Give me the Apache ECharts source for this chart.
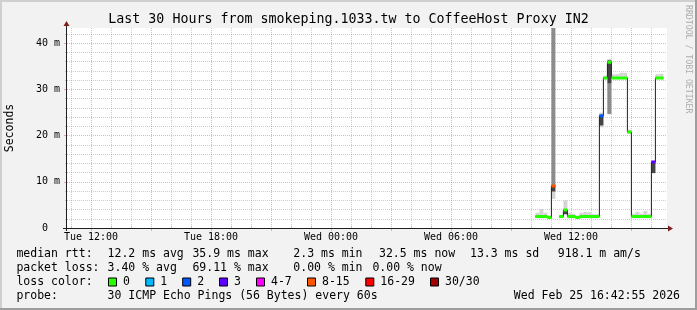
<!DOCTYPE html>
<html><head><meta charset="utf-8">
<script src="https://cdn.jsdelivr.net/npm/echarts@6/dist/echarts.min.js"></script>
<style>html,body{margin:0;padding:0;background:#f2f2f2;}#c{width:697px;height:310px;}</style>
</head><body><div id="c"></div>
<script>
// ---------------- data ----------------
const titleText = 'Last 30 Hours from smokeping.1033.tw to CoffeeHost Proxy IN2';
const yAxisTitle = 'Seconds';
const watermark = 'RRDTOOL / TOBI OETIKER';
const timeRange = [10.8, 40.8];            // hours since Tue 00:00
const xTickHours = [12, 18, 24, 30, 36];
const xTickLabels = ['Tue 12:00', 'Tue 18:00', 'Wed 00:00', 'Wed 06:00', 'Wed 12:00'];
const xMajorHours = [12, 15, 18, 21, 24, 27, 30, 33, 36, 39];
const xMinorHours = [11, 13, 14, 16, 17, 19, 20, 22, 23, 25, 26, 28, 29, 31, 32, 34, 35, 37, 38, 40];
const yRange = [0, 43.3];                  // milliseconds
const yTickValues = [0, 10, 20, 30, 40];
const yTickLabels = ['0\u00a0\u00a0', '10 m', '20 m', '30 m', '40 m'];
const yMinorValues = [2, 4, 6, 8, 12, 14, 16, 18, 22, 24, 26, 28, 32, 34, 36, 38, 42];

const bucketStart = 34.22;                 // first bucket start (hours)
const bucketHours = 0.2;                   // 12 minute buckets
const medianRtt = [2.5, 2.5, 2.5, 2.3, 9.1, null, 2.5, 3.9, 2.5, 2.5, 2.3, 2.5, 2.5, 2.5, 2.5, 2.5,
                   24.3, 32.5, 35.9, 32.5, 32.5, 32.5, 32.5, 20.8, 2.5, 2.5, 2.5, 2.5, 2.5, 14.3, 32.5, 32.5];
const lossLevel = [0, 0, 0, 0, 5, null, 0, 0, 0, 0, 0, 0, 0, 0, 0, 0,
                   2, 0, 0, 0, 0, 0, 0, 0, 0, 0, 0, 0, 0, 3, 0, 0];
const lightSmokeLo = [2.1, 2.1, 2.1, 2.0, 6.3, null, 2.1, 2.9, 2.1, 2.1, 2.0, 2.1, 2.1, 2.1, 2.1, 2.1,
                      21.8, 32.2, 24.6, 32.2, 32.2, 32.2, 32.2, 20.4, 2.1, 2.1, 2.1, 2.1, 2.1, 11.8, 32.2, 32.2];
const lightSmokeHi = [3.3, 4.1, 3.3, 2.7, 9.1, null, 2.9, 6.0, 3.3, 3.1, 2.7, 3.3, 3.5, 3.4, 3.0, 3.0,
                      25.0, 33.0, 36.6, 33.3, 33.3, 33.6, 33.6, 21.3, 3.1, 3.5, 3.1, 3.7, 3.1, 14.6, 33.3, 33.4];
const midSmokeLo = [null, null, null, null, 9.1, null, null, null, null, null, null, null, null, null, null, null,
                    null, null, 24.7, null, null, null, null, null, null, null, null, null, null, null, null, null];
const midSmokeHi = [null, null, null, null, 44.0, null, null, null, null, null, null, null, null, null, null, null,
                    null, null, 31.3, null, null, null, null, null, null, null, null, null, null, null, null, null];
const darkSmokeLo = [null, null, null, null, 7.9, null, null, 3.0, null, null, null, null, null, null, null, null,
                     22.2, null, 31.3, null, null, null, null, null, null, null, null, null, null, 11.9, null, null];
const darkSmokeHi = [null, null, null, null, 9.1, null, null, 3.9, null, null, null, null, null, null, null, null,
                     24.3, null, 36.3, null, null, null, null, null, null, null, null, null, null, 14.3, null, null];

const lossLabels = ['0', '1', '2', '3', '4-7', '8-15', '16-29', '30/30'];
const lossColors = ['#26ff00', '#00b8ff', '#0059ff', '#5e00ff', '#ff00ff', '#ff5500', '#ff0000', '#a10000'];
const rttStats = ['12.2 ms avg', '35.9 ms max', '2.3 ms min', '32.5 ms now', '13.3 ms sd', '918.1 m am/s'];
const lossStats = ['3.40 % avg', '69.11 % max', '0.00 % min', '0.00 % now'];
const rowNames = ['median rtt:', 'packet loss:', 'loss color:', 'probe:'];
const probeText = '30 ICMP Echo Pings (56 Bytes) every 60s';
const stampText = 'Wed Feb 25 16:42:55 2026';

// ---------------- layout ----------------
const W = 697, H = 310;
const GL = 67, GT = 28, GW = 600, GH = 200;
const MONO = '"DejaVu Sans Mono", monospace';
const rttStatX = [107.6, 192.4, 293.3, 379, 470, 557.8];
const lossStatX = [107.6, 192.4, 293.3, 372.4];
const lossBoxX = [108, 145.3, 182.2, 219, 256, 307, 365.3, 430];
const rowY = [254.5, 268.5, 282.5, 296.5];
const GRID_C = 'rgba(143,143,143,0.45)';
const MGRID_C = 'rgba(222,79,79,0.45)';
const ARROW_C = '#801f1f';

function smoke(lo, hi, color) {
  const data = [];
  for (let i = 0; i < lo.length; i++) {
    if (lo[i] == null || hi[i] == null) continue;
    const t = bucketStart + i * bucketHours;
    data.push([t, t + bucketHours, lo[i], hi[i]]);
  }
  return {
    type: 'custom', clip: true, silent: true, z: 1, animation: false,
    encode: { x: [0, 1], y: [2, 3] },
    renderItem: function (params, api) {
      const a = api.coord([api.value(0), api.value(3)]);
      const b = api.coord([api.value(1), api.value(2)]);
      return { type: 'rect', shape: { x: a[0], y: a[1], width: b[0] - a[0], height: b[1] - a[1] },
               style: { fill: color } };
    },
    data: data
  };
}

const medData = [];
for (let i = 0; i < medianRtt.length; i++) {
  const t0 = bucketStart + i * bucketHours, t1 = t0 + bucketHours;
  if (medianRtt[i] == null) { medData.push([t0, '-']); continue; }
  medData.push([t0, medianRtt[i]], [t1, medianRtt[i]]);
}
const lossSeries = lossColors.map(function (c, L) {
  const d = [];
  for (let i = 0; i < medianRtt.length; i++) {
    if (lossLevel[i] !== L || medianRtt[i] == null) continue;
    const t0 = bucketStart + i * bucketHours, t1 = t0 + bucketHours;
    d.push([t0, medianRtt[i]], [t1, medianRtt[i]], [t1, '-']);
  }
  return { type: 'line', data: d, symbol: 'none', z: 4, animation: false, silent: true,
           lineStyle: { color: c, width: 3 }, connectNulls: false };
});

function txt(s, x, y, opt) {
  opt = opt || {};
  return { type: 'text', x: x, y: y, rotation: opt.rot || 0, z: 20, silent: true,
    style: { text: s, font: (opt.size || 11.5) + 'px ' + MONO, fill: opt.color || '#000',
             align: opt.align || 'left', verticalAlign: 'middle',
             textAlign: opt.align || 'left', textVerticalAlign: 'middle' } };
}

const graphics = [
  { type: 'rect', shape: { x: 0, y: 0, width: W, height: 2 }, style: { fill: '#cfcfcf' }, z: 5 },
  { type: 'rect', shape: { x: 0, y: 0, width: 2, height: H }, style: { fill: '#cfcfcf' }, z: 5 },
  { type: 'rect', shape: { x: W - 2, y: 0, width: 2, height: H }, style: { fill: '#9e9e9e' }, z: 5 },
  { type: 'rect', shape: { x: 0, y: H - 2, width: W, height: 2 }, style: { fill: '#9e9e9e' }, z: 5 },
  { type: 'line', shape: { x1: GL - 4, y1: GT + GH + 0.5, x2: GL + GW + 2, y2: GT + GH + 0.5 }, style: { stroke: '#1f1f1f', lineWidth: 1 }, z: 10 },
  { type: 'line', shape: { x1: GL - 0.5, y1: GT + GH + 3, x2: GL - 0.5, y2: GT - 3 }, style: { stroke: '#1f1f1f', lineWidth: 1 }, z: 10 },
  { type: 'polygon', shape: { points: [[GL + GW + 1, GT + GH - 2.5], [GL + GW + 6, GT + GH + 0.5], [GL + GW + 1, GT + GH + 3.5]] }, style: { fill: ARROW_C }, z: 11 },
  { type: 'polygon', shape: { points: [[GL - 3.5, GT - 2], [GL - 0.5, GT - 7], [GL + 2.5, GT - 2]] }, style: { fill: ARROW_C }, z: 11 },
  txt(titleText, W / 2, 19.7, { size: 13.3, align: 'center' }),
  txt(yAxisTitle, 10, GT + GH / 2, { rot: Math.PI / 2, align: 'center' }),
  txt(watermark, 688, 5, { rot: -Math.PI / 2, size: 8.2, color: '#adadad' })
];
rowNames.forEach(function (n, r) { graphics.push(txt(n, 16.4, rowY[r])); });
rttStats.forEach(function (s, i) { graphics.push(txt(s, rttStatX[i], rowY[0])); });
lossStats.forEach(function (s, i) { graphics.push(txt(s, lossStatX[i], rowY[1])); });
lossLabels.forEach(function (s, i) {
  graphics.push({ type: 'rect', shape: { x: lossBoxX[i] + 0.5, y: rowY[2] - 4.5, width: 8, height: 8 },
                  style: { fill: lossColors[i], stroke: '#000', lineWidth: 1 }, z: 20 });
  graphics.push(txt(s, lossBoxX[i] + 15, rowY[2]));
});
graphics.push(txt(probeText, 107.6, rowY[3]));
graphics.push(txt(stampText, 680, rowY[3], { align: 'right' }));

const chart = echarts.init(document.getElementById('c'), null, { renderer: 'canvas' });
chart.setOption({
  animation: false,
  backgroundColor: '#f2f2f2',
  grid: { left: GL, top: GT, width: GW, height: GH, show: true, backgroundColor: '#ffffff', borderWidth: 0 },
  xAxis: [
    { type: 'value', min: timeRange[0], max: timeRange[1],
      axisLine: { show: false },
      axisTick: { show: true, customValues: xMajorHours, length: 3, lineStyle: { color: MGRID_C } },
      axisLabel: { customValues: xTickHours, margin: 4, color: '#000', fontFamily: MONO, fontSize: 10,
                   formatter: function (v) { const k = xTickHours.indexOf(Math.round(v)); return k >= 0 ? xTickLabels[k] : ''; } },
      splitLine: { show: true, lineStyle: { color: MGRID_C, type: [1, 1], width: 1 } } },
    { type: 'value', min: timeRange[0], max: timeRange[1],
      axisLine: { show: false },
      axisTick: { show: true, customValues: xMinorHours, length: 2, lineStyle: { color: GRID_C } },
      axisLabel: { show: false },
      splitLine: { show: true, lineStyle: { color: GRID_C, type: [1, 1], width: 1 } } }
  ],
  yAxis: [
    { type: 'value', min: yRange[0], max: yRange[1], position: 'left',
      axisLine: { show: false },
      axisTick: { show: true, customValues: yTickValues, length: 3, lineStyle: { color: MGRID_C } },
      axisLabel: { customValues: yTickValues, margin: 7, color: '#000', fontFamily: MONO, fontSize: 10,
                   formatter: function (v) { const k = yTickValues.indexOf(Math.round(v)); return k >= 0 ? yTickLabels[k] : ''; } },
      splitLine: { show: true, lineStyle: { color: MGRID_C, type: [1, 1], width: 1 } } },
    { type: 'value', min: yRange[0], max: yRange[1], position: 'left',
      axisLine: { show: false },
      axisTick: { show: true, customValues: yMinorValues, length: 2, lineStyle: { color: GRID_C } },
      axisLabel: { show: false },
      splitLine: { show: true, lineStyle: { color: GRID_C, type: [1, 1], width: 1 } } }
  ],
  series: [
    smoke(lightSmokeLo, lightSmokeHi, '#d4d4d4'),
    smoke(midSmokeLo, midSmokeHi, '#8c8c8c'),
    smoke(darkSmokeLo, darkSmokeHi, '#454545'),
    { type: 'line', data: medData, symbol: 'none', z: 3, animation: false, silent: true, connectNulls: false,
      lineStyle: { color: '#202020', width: 1 } }
  ].concat(lossSeries),
  graphic: { elements: graphics }
});
</script></body></html>
